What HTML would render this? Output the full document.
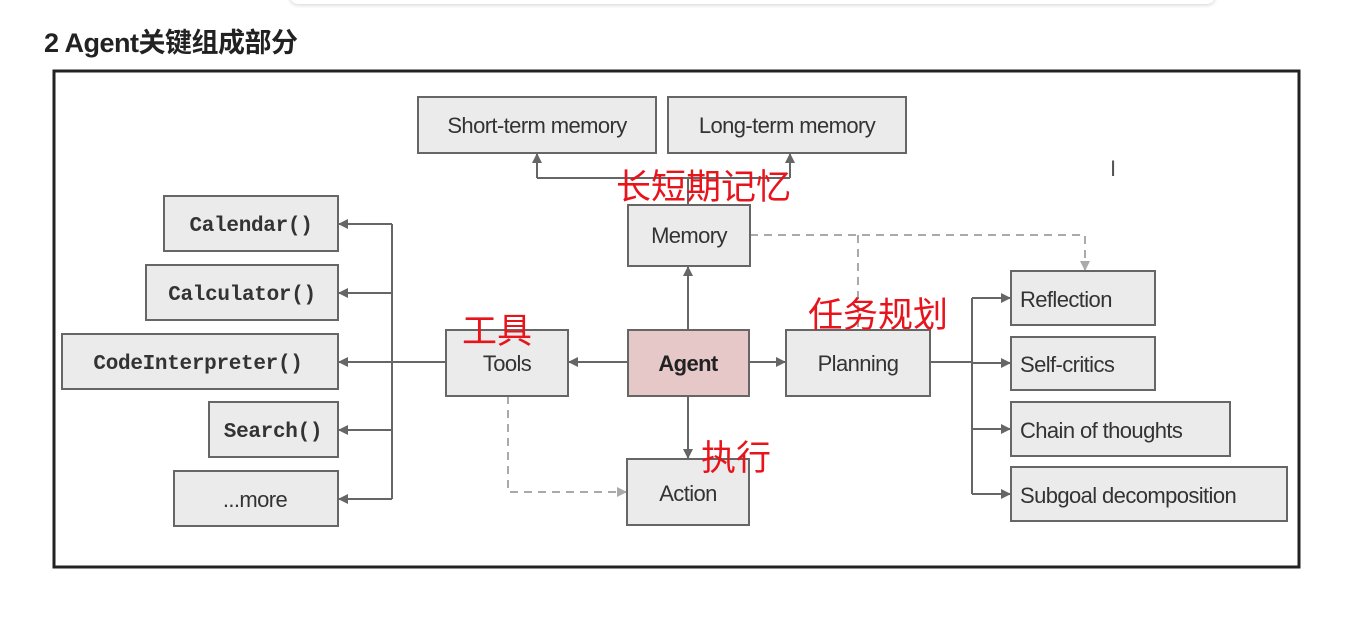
<!DOCTYPE html>
<html><head><meta charset="utf-8"><style>
body{margin:0;width:1362px;height:620px;background:#fff;overflow:hidden;position:relative;font-family:"Liberation Sans",sans-serif}
.top{position:absolute;left:290px;top:-12px;width:925px;height:16px;border-radius:8px;box-shadow:0 1px 4px rgba(0,0,0,.18);background:#fff}
h2{position:absolute;left:44px;top:21px;margin:0;font-size:27px;font-weight:bold;color:#222;font-family:"Liberation Sans","Noto Sans CJK SC",sans-serif;letter-spacing:-0.5px}
</style></head><body>
<div class="top"></div>
<h2>2 Agent关键组成部分</h2>
<svg width="1362" height="620" style="position:absolute;left:0;top:0">
<defs><marker id="a" markerWidth="10" markerHeight="10" refX="9" refY="5" orient="auto" markerUnits="userSpaceOnUse"><path d="M0,0 L10,5 L0,10z" fill="#666"/></marker>
<marker id="b" markerWidth="10" markerHeight="10" refX="9" refY="5" orient="auto" markerUnits="userSpaceOnUse"><path d="M0,0 L10,5 L0,10z" fill="#aaa"/></marker></defs>
<rect x="54" y="71" width="1245" height="496" fill="#fff" stroke="#222" stroke-width="3"/>
<g stroke="#666" stroke-width="2" fill="none">
<path d="M446,362 H392 M392,224 V499"/>
<path d="M392,224 H339" marker-end="url(#a)"/><path d="M392,293 H339" marker-end="url(#a)"/><path d="M392,362 H339" marker-end="url(#a)"/><path d="M392,430 H339" marker-end="url(#a)"/><path d="M392,499 H339" marker-end="url(#a)"/>
<path d="M688,205 V178 M537,178 H790"/>
<path d="M537,178 V154" marker-end="url(#a)"/><path d="M790,178 V154" marker-end="url(#a)"/>
<path d="M688,330 V267" marker-end="url(#a)"/>
<path d="M688,396 V458" marker-end="url(#a)"/>
<path d="M628,362 H569" marker-end="url(#a)"/>
<path d="M749,362 H785" marker-end="url(#a)"/>
<path d="M930,362 H972 M972,298 V494"/>
<path d="M972,298 H1010" marker-end="url(#a)"/><path d="M972,363 H1010" marker-end="url(#a)"/><path d="M972,429 H1010" marker-end="url(#a)"/><path d="M972,494 H1010" marker-end="url(#a)"/>
</g>
<g stroke="#aaa" stroke-width="2" fill="none" stroke-dasharray="8,6">
<path d="M750,235 H1085 V270" marker-end="url(#b)"/>
<path d="M858,235 V330"/>
<path d="M508,396 V492 H626" marker-end="url(#b)"/>
</g>
<g fill="#ebebeb" stroke="#666" stroke-width="2">
<rect x="418" y="97" width="238" height="56"/><rect x="668" y="97" width="238" height="56"/>
<rect x="628" y="205" width="122" height="61"/>
<rect x="628" y="330" width="121" height="66" fill="#e6c8c8"/>
<rect x="446" y="330" width="122" height="66"/>
<rect x="786" y="330" width="144" height="66"/>
<rect x="627" y="459" width="122" height="66"/>
<rect x="1011" y="271" width="144" height="54"/><rect x="1011" y="337" width="144" height="53"/>
<rect x="1011" y="402" width="219" height="54"/><rect x="1011" y="467" width="276" height="54"/>
<rect x="164" y="196" width="174" height="55"/><rect x="146" y="265" width="192" height="55"/>
<rect x="62" y="334" width="276" height="55"/><rect x="209" y="402" width="129" height="55"/>
<rect x="174" y="471" width="164" height="55"/>
</g>
<g font-family="Liberation Sans,sans-serif" font-size="22" fill="#333" text-anchor="middle" letter-spacing="-0.6">
<text x="537" y="133">Short-term memory</text><text x="787" y="133">Long-term memory</text>
<text x="689" y="243">Memory</text><text x="688" y="371" font-weight="bold" fill="#222">Agent</text>
<text x="507" y="371">Tools</text><text x="858" y="371">Planning</text><text x="688" y="501">Action</text>
<text x="255" y="507">...more</text>
</g>
<g font-family="Liberation Sans,sans-serif" font-size="22" fill="#333" letter-spacing="-0.6">
<text x="1020" y="307">Reflection</text><text x="1020" y="372">Self-critics</text>
<text x="1020" y="438">Chain of thoughts</text><text x="1020" y="503">Subgoal decomposition</text>
</g>
<g font-family="Liberation Mono,monospace" font-size="21" font-weight="bold" fill="#333" text-anchor="middle" letter-spacing="-0.3">
<text x="251" y="231">Calendar()</text><text x="242" y="300">Calculator()</text>
<text x="198" y="369">CodeInterpreter()</text><text x="273" y="437">Search()</text>
</g>
<g font-family="Liberation Sans,Noto Sans CJK SC,sans-serif" font-size="35" fill="#e8141c">
<text x="616" y="199">长短期记忆</text><text x="462" y="343">工具</text>
<text x="808" y="327">任务规划</text><text x="701" y="470">执行</text>
</g>
<text x="1110" y="176" font-family="Liberation Sans,sans-serif" font-size="22" fill="#555">I</text>
</svg>
</body></html>
